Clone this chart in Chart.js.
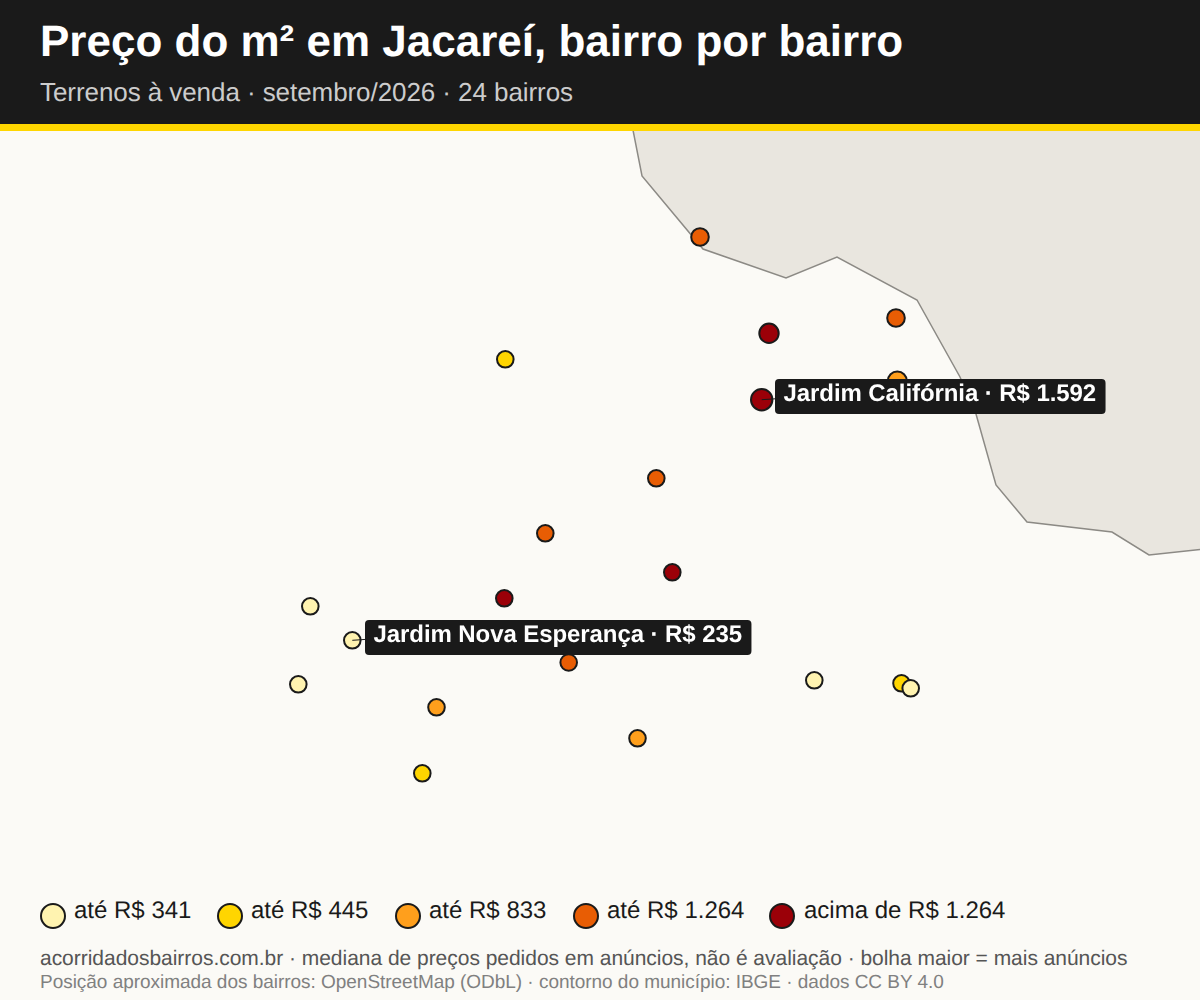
<!DOCTYPE html>
<html lang="pt-BR">
<head>
<meta charset="utf-8">
<title>Preço do m² em Jacareí</title>
<script src="https://cdn.jsdelivr.net/npm/chart.js@4"></script>
<style>
    html, body { margin: 0; padding: 0; }
    body { width: 1200px; height: 1000px; background: #fbfaf6; font-family: "Liberation Sans", sans-serif; position: relative; overflow: hidden; text-rendering: geometricPrecision; }
    #header { position: absolute; left: 0; top: 0; width: 1200px; height: 124px; background: #1a1a1a; border-bottom: 7px solid #ffd600; }
    #title { position: absolute; left: 40px; top: 17px; font-size: 44px; line-height: 50px; font-weight: bold; color: #fff; white-space: nowrap; }
    #subtitle { position: absolute; left: 40px; top: 77px; font-size: 26px; line-height: 30px; color: #cccccc; white-space: nowrap; letter-spacing: -0.07px; }
    #map { position: absolute; left: 0; top: 131px; width: 1200px; height: 750px; }
    #legend { position: absolute; left: 40px; top: 896px; height: 32px; white-space: nowrap; }
    .item { position: absolute; top: 0; font-size: 24px; line-height: 30px; color: #1a1a1a; }
    .dot { position: absolute; top: 6.5px; left: 0.3px; width: 22px; height: 22px; border: 2px solid #1a1a1a; border-radius: 50%; }
    #source { position: absolute; left: 40px; top: 947px; font-size: 21px; line-height: 24px; color: #555; white-space: nowrap; letter-spacing: -0.03px; }
    #credit { position: absolute; left: 40px; top: 972px; font-size: 19px; line-height: 22px; color: #808080; white-space: nowrap; letter-spacing: -0.03px; }
</style>
</head>
<body>
<div id="header">
    <div id="title">Preço do m² em Jacareí, bairro por bairro</div>
    <div id="subtitle">Terrenos à venda · setembro/2026 · 24 bairros</div>
</div>
<div id="map"><canvas id="chart" width="1200" height="750"></canvas></div>
<div id="legend"></div>
<div id="source">acorridadosbairros.com.br · mediana de preços pedidos em anúncios, não é avaliação · bolha maior = mais anúncios</div>
<div id="credit">Posição aproximada dos bairros: OpenStreetMap (ODbL) · contorno do município: IBGE · dados CC BY 4.0</div>
<script>
// Faixas de preço
const faixaLabels = ["até R$ 341", "até R$ 445", "até R$ 833", "até R$ 1.264", "acima de R$ 1.264"];
const faixaColors = ["#fff3b0", "#ffd500", "#ff9f1c", "#e85d04", "#9b0008"];

// Bairros (posição no mapa, faixa e tamanho da bolha)
const bairroX = [700, 896, 769, 505.3, 897.3, 761.7, 656.3, 545.3, 672.3, 504.3, 310.3, 352.3, 568.7, 298.3, 814.3, 901.5, 910.7, 436.5, 637.5, 422.3];
const bairroY = [237, 318, 333.3, 359.3, 381, 399.7, 478.3, 533.3, 572.3, 598.3, 606.3, 640.3, 662.5, 684.3, 680.3, 683.3, 688.3, 707.3, 738.3, 773.3];
const bairroFaixa = [3, 3, 4, 1, 2, 4, 3, 3, 4, 4, 0, 0, 3, 0, 0, 1, 0, 2, 2, 1];
const bairroRaio = [8.8, 8.8, 9.7, 8.3, 9.5, 10.7, 8.3, 8.3, 8.3, 8.3, 8.3, 8.3, 8.3, 8.3, 8.3, 8.3, 8.3, 8.3, 8.3, 8.3];

// Contorno do município
const contornoX = [632, 642, 703, 786, 837, 917, 960, 976, 996, 1027, 1112, 1149, 1205];
const contornoY = [125, 176, 249, 278, 257, 300, 377, 414, 485, 522, 532, 555, 549];

// Destaques
const destaqueIndex = [5, 11];
const destaqueTexto = ["Jardim Califórnia · R$ 1.592", "Jardim Nova Esperança · R$ 235"];

// Legenda
const legendOffsets = [0, 177, 355, 533, 730];
const dotOffsets = [0, 0, -0.5, -0.5, -1];
const legend = document.getElementById("legend");
faixaLabels.forEach((label, i) => {
    const item = document.createElement("div");
    item.className = "item";
    item.style.left = legendOffsets[i] + "px";
    item.innerHTML = `<span class="dot" style="background:${faixaColors[i]};margin-left:${dotOffsets[i]}px"></span><span style="margin-left:34px">${label}</span>`;
    legend.appendChild(item);
});

const bairros = bairroX.map((x, i) => ({ x: x, y: bairroY[i], r: bairroRaio[i] }));
const contorno = contornoX.map((x, i) => ({ x: x, y: contornoY[i] }));

// Rótulos dos bairros em destaque
const labelPlugin = {
    id: "destaques",
    afterDatasetsDraw(chart) {
        const ctx = chart.ctx;
        const points = chart.getDatasetMeta(1).data;
        ctx.save();
        ctx.font = "bold 24px 'Liberation Sans', sans-serif";
        ctx.textRendering = "geometricPrecision";
        ctx.letterSpacing = "-0.08px";
        ctx.textBaseline = "middle";
        destaqueIndex.forEach((idx, i) => {
            const p = points[idx];
            const w = ctx.measureText(destaqueTexto[i]).width;
            const bx = Math.round(p.x + 13);
            const by = Math.round(p.y - 20.5);
            ctx.strokeStyle = "#1a1a1a";
            ctx.lineWidth = 1;
            ctx.beginPath();
            ctx.moveTo(p.x, p.y);
            ctx.lineTo(bx + 2, p.y - 1);
            ctx.stroke();
            ctx.fillStyle = "#1a1a1a";
            ctx.beginPath();
            ctx.roundRect(bx, by, w + 18, 35, 4);
            ctx.fill();
            ctx.fillStyle = "#ffffff";
            ctx.fillText(destaqueTexto[i], bx + 8.5, by + 15.5);
        });
        ctx.restore();
    }
};

new Chart(document.getElementById("chart").getContext("2d"), {
    type: "bubble",
    data: {
        datasets: [
            {
                type: "line",
                label: "Contorno",
                data: contorno,
                parsing: false,
                borderColor: "#8c8a85",
                borderWidth: 1.5,
                backgroundColor: "#e9e6df",
                fill: "end",
                pointRadius: 0,
                tension: 0,
                order: 2
            },
            {
                label: "Bairros",
                data: bairros,
                backgroundColor: bairroFaixa.map((f) => faixaColors[f]),
                borderColor: "#1a1a1a",
                borderWidth: 2,
                order: 1
            }
        ]
    },
    options: {
        responsive: false,
        animation: false,
        layout: { padding: 0, autoPadding: false },
        plugins: {
            legend: { display: false },
            tooltip: { enabled: false },
            title: { display: false }
        },
        scales: {
            x: { type: "linear", min: 0, max: 1200, display: false },
            y: { type: "linear", min: 131, max: 881, reverse: true, display: false }
        }
    },
    plugins: [labelPlugin]
});
</script>
</body>
</html>
